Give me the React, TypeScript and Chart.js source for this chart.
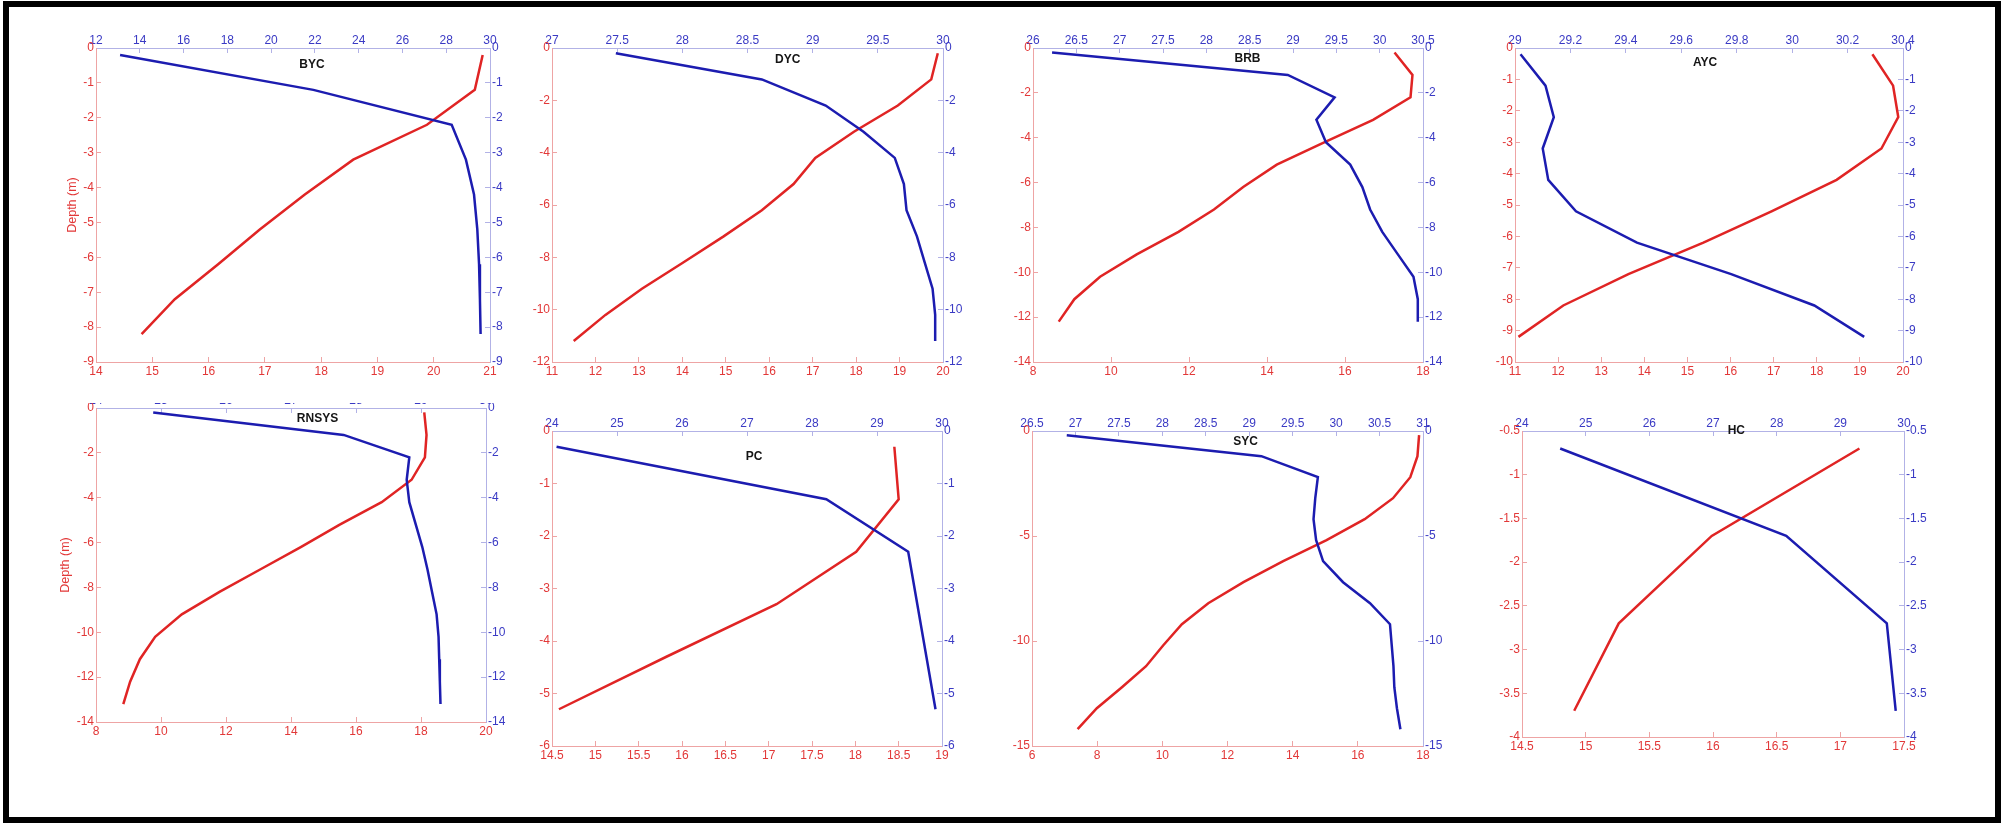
import React, { useEffect, useRef } from "react";
import { Chart, registerables } from "chart.js";

Chart.register(...registerables);

// ---------------- DATA ----------------
// BYC
const bycDepth = [-0.2, -1.2, -2.2, -3.2, -4.2, -5.2, -6.2, -7.2, -8.2];
const bycTemperature = [20.87, 20.73, 19.88, 18.57, 17.71, 16.91, 16.17, 15.4, 14.81];
const bycSalinity = [13.1, 21.93, 28.25, 28.9, 29.27, 29.42, 29.5, 29.54, 29.57];
const bycTempTicks = [14, 15, 16, 17, 18, 19, 20, 21];
const bycSalTicks = [12, 14, 16, 18, 20, 22, 24, 26, 28, 30];
const bycDepthTicks = [-9, -8, -7, -6, -5, -4, -3, -2, -1, 0];

// DYC
const dycDepth = [-0.2, -1.2, -2.2, -3.2, -4.2, -5.2, -6.2, -7.2, -8.2, -9.2, -10.2, -11.2];
const dycTemperature = [19.88, 19.73, 18.96, 17.95, 17.06, 16.56, 15.83, 14.95, 14.02, 13.07, 12.23, 11.5];
const dycSalinity = [27.49, 28.61, 29.1, 29.39, 29.63, 29.7, 29.72, 29.8, 29.86, 29.92, 29.94, 29.94];
const dycTempTicks = [11, 12, 13, 14, 15, 16, 17, 18, 19, 20];
const dycSalTicks = [27, 27.5, 28, 28.5, 29, 29.5, 30];
const dycDepthTicks = [-12, -10, -8, -6, -4, -2, 0];

// BRB
const brbDepth = [-0.2, -1.2, -2.2, -3.2, -4.2, -5.2, -6.2, -7.2, -8.2, -9.2, -10.2, -11.2, -12.2];
const brbTemperature = [17.27, 17.73, 17.68, 16.72, 15.48, 14.25, 13.39, 12.64, 11.73, 10.66, 9.72, 9.06, 8.66];
const brbSalinity = [26.22, 28.94, 29.48, 29.27, 29.38, 29.66, 29.8, 29.89, 30.03, 30.21, 30.39, 30.44, 30.44];
const brbTempTicks = [8, 10, 12, 14, 16, 18];
const brbSalTicks = [26, 26.5, 27, 27.5, 28, 28.5, 29, 29.5, 30, 30.5];
const brbDepthTicks = [-14, -12, -10, -8, -6, -4, -2, 0];

// AYC
const aycDepth = [-0.2, -1.2, -2.2, -3.2, -4.2, -5.2, -6.2, -7.2, -8.2, -9.2];
const aycTemperature = [19.29, 19.77, 19.89, 19.5, 18.46, 16.95, 15.37, 13.63, 12.12, 11.08];
const aycSalinity = [29.02, 29.11, 29.14, 29.1, 29.12, 29.22, 29.44, 29.78, 30.08, 30.26];
const aycTempTicks = [11, 12, 13, 14, 15, 16, 17, 18, 19, 20];
const aycSalTicks = [29, 29.2, 29.4, 29.6, 29.8, 30, 30.2, 30.4];
const aycDepthTicks = [-10, -9, -8, -7, -6, -5, -4, -3, -2, -1, 0];

// RNSYS
const rnsysDepth = [-0.2, -1.2, -2.2, -3.2, -4.2, -5.2, -6.2, -7.2, -8.2, -9.2, -10.2, -11.2, -12.2, -13.2];
const rnsysTemperature = [18.1, 18.17, 18.12, 17.71, 16.79, 15.5, 14.3, 13.05, 11.8, 10.64, 9.82, 9.35, 9.05, 8.84];
const rnsysSalinity = [24.88, 27.81, 28.82, 28.78, 28.82, 28.92, 29.02, 29.1, 29.17, 29.24, 29.27, 29.28, 29.29, 29.3];
const rnsysTempTicks = [8, 10, 12, 14, 16, 18, 20];
const rnsysSalTicks = [24, 25, 26, 27, 28, 29, 30];
const rnsysDepthTicks = [-14, -12, -10, -8, -6, -4, -2, 0];

// PC
const pcDepth = [-0.3, -1.3, -2.3, -3.3, -4.3, -5.3];
const pcTemperature = [18.45, 18.5, 18.01, 17.09, 15.82, 14.58];
const pcSalinity = [24.07, 28.22, 29.48, 29.62, 29.76, 29.9];
const pcTempTicks = [14.5, 15, 15.5, 16, 16.5, 17, 17.5, 18, 18.5, 19];
const pcSalTicks = [24, 25, 26, 27, 28, 29, 30];
const pcDepthTicks = [-6, -5, -4, -3, -2, -1, 0];

// SYC
const sycDepth = [-0.2, -1.2, -2.2, -3.2, -4.2, -5.2, -6.2, -7.2, -8.2, -9.2, -10.2, -11.2, -12.2, -13.2, -14.2];
const sycTemperature = [17.88, 17.83, 17.61, 17.08, 16.21, 15.04, 13.71, 12.49, 11.41, 10.6, 10.03, 9.5, 8.76, 7.99, 7.4];
const sycSalinity = [26.9, 29.14, 29.79, 29.76, 29.74, 29.77, 29.85, 30.08, 30.39, 30.62, 30.64, 30.66, 30.67, 30.7, 30.74];
const sycTempTicks = [6, 8, 10, 12, 14, 16, 18];
const sycSalTicks = [26.5, 27, 27.5, 28, 28.5, 29, 29.5, 30, 30.5, 31];
const sycDepthTicks = [-15, -10, -5, 0];

// HC
const hcDepth = [-0.7, -1.7, -2.7, -3.7];
const hcTemperature = [17.15, 15.99, 15.26, 14.91];
const hcSalinity = [24.6, 28.15, 29.73, 29.87];
const hcTempTicks = [14.5, 15, 15.5, 16, 16.5, 17, 17.5];
const hcSalTicks = [24, 25, 26, 27, 28, 29, 30];
const hcDepthTicks = [-4, -3.5, -3, -2.5, -2, -1.5, -1, -0.5];

// ---------------- STYLE ----------------
const FONT = "'Liberation Sans', Arial, sans-serif";
const RED_LINE = "#e02424";
const BLUE_LINE = "#1c1cb0";
const RED_TEXT = "#e23838";
const BLUE_TEXT = "#3a3ac4";
const RED_AXIS = "#eea4a4";
const BLUE_AXIS = "#b2b2e6";

const AX_W = 50; // width of y axes
const AX_H = 28; // height of x axes

type Panel = {
  name: string;
  depth: number[];
  temp: number[];
  sal: number[];
  tempTicks: number[];
  salTicks: number[];
  depthTicks: number[];
  box: [number, number, number, number];
  title: [number, number];
  depthLabelX?: number;
  clipTop?: number;
};

const panels: Panel[] = [
  { name: "BYC", depth: bycDepth, temp: bycTemperature, sal: bycSalinity, tempTicks: bycTempTicks, salTicks: bycSalTicks, depthTicks: bycDepthTicks, box: [96, 48, 394, 314], title: [0.548, 17], depthLabelX: -23.5 },
  { name: "DYC", depth: dycDepth, temp: dycTemperature, sal: dycSalinity, tempTicks: dycTempTicks, salTicks: dycSalTicks, depthTicks: dycDepthTicks, box: [552, 48, 391, 314], title: [0.603, 12] },
  { name: "BRB", depth: brbDepth, temp: brbTemperature, sal: brbSalinity, tempTicks: brbTempTicks, salTicks: brbSalTicks, depthTicks: brbDepthTicks, box: [1033, 48, 390, 314], title: [0.55, 10.6] },
  { name: "AYC", depth: aycDepth, temp: aycTemperature, sal: aycSalinity, tempTicks: aycTempTicks, salTicks: aycSalTicks, depthTicks: aycDepthTicks, box: [1515, 48, 388, 314], title: [0.49, 15] },
  { name: "RNSYS", depth: rnsysDepth, temp: rnsysTemperature, sal: rnsysSalinity, tempTicks: rnsysTempTicks, salTicks: rnsysSalTicks, depthTicks: rnsysDepthTicks, box: [96, 408, 390, 314], title: [0.568, 10.6], depthLabelX: -30, clipTop: 403 },
  { name: "PC", depth: pcDepth, temp: pcTemperature, sal: pcSalinity, tempTicks: pcTempTicks, salTicks: pcSalTicks, depthTicks: pcDepthTicks, box: [552, 431, 390, 315], title: [0.518, 26] },
  { name: "SYC", depth: sycDepth, temp: sycTemperature, sal: sycSalinity, tempTicks: sycTempTicks, salTicks: sycSalTicks, depthTicks: sycDepthTicks, box: [1032, 431, 391, 315], title: [0.546, 10.7] },
  { name: "HC", depth: hcDepth, temp: hcTemperature, sal: hcSalinity, tempTicks: hcTempTicks, salTicks: hcSalTicks, depthTicks: hcDepthTicks, box: [1522, 431, 382, 306], title: [0.561, -0.7] },
];

const fmt = (v: number | string) => String(+Number(v).toFixed(3));

function makeAxis(position: string, ticks: number[], textColor: string, axisColor: string, padding: number) {
  const horizontal = position === "top" || position === "bottom";
  return {
    type: "linear",
    position,
    min: ticks[0],
    max: ticks[ticks.length - 1],
    afterBuildTicks: (s: any) => {
      s.ticks = ticks.map((v) => ({ value: v }));
    },
    afterFit: (s: any) => {
      if (horizontal) s.height = AX_H;
      else s.width = AX_W;
    },
    grid: {
      drawOnChartArea: false,
      drawTicks: true,
      tickLength: -5,
      color: axisColor,
      tickColor: axisColor,
      tickWidth: 1,
    },
    border: { display: true, color: axisColor, width: 1 },
    ticks: {
      color: textColor,
      font: { family: FONT, size: 12 },
      padding,
      autoSkip: false,
      maxRotation: 0,
      minRotation: 0,
      callback: (v: any) => fmt(v),
    },
  };
}

function PanelChart({ p }: { p: Panel }) {
  const ref = useRef<HTMLCanvasElement>(null);
  const [l, t, w, h] = p.box;
  const cw = w + 2 * AX_W;
  const ch = h + 2 * AX_H;
  const cl = l - AX_W;
  const ct = t - AX_H;

  useEffect(() => {
    if (!ref.current) return;
    const textPlugin = {
      id: "panelText" + p.name,
      afterDraw(chart: any) {
        const { ctx, chartArea: a } = chart;
        ctx.save();
        ctx.font = `bold 12px ${FONT}`;
        ctx.fillStyle = "#151515";
        ctx.textAlign = "center";
        ctx.textBaseline = "middle";
        ctx.fillText(p.name, a.left + p.title[0] * (a.right - a.left), a.top + p.title[1]);
        if (p.depthLabelX !== undefined) {
          ctx.translate(a.left + p.depthLabelX, (a.top + a.bottom) / 2);
          ctx.rotate(-Math.PI / 2);
          ctx.fillStyle = RED_TEXT;
          ctx.font = `12.5px ${FONT}`;
          ctx.fillText("Depth (m)", 0, 0);
        }
        ctx.restore();
      },
    };
    const chart = new Chart(ref.current, {
      type: "scatter",
      data: {
        datasets: [
          {
            label: "Salinity",
            data: p.depth.map((d, i) => ({ x: p.sal[i], y: d })),
            xAxisID: "xt",
            yAxisID: "yr",
            showLine: true,
            borderColor: BLUE_LINE,
            backgroundColor: BLUE_LINE,
            borderWidth: 2.5,
            pointRadius: 0,
            tension: 0,
          },
          {
            label: "Temperature",
            data: p.depth.map((d, i) => ({ x: p.temp[i], y: d })),
            xAxisID: "xb",
            yAxisID: "yl",
            showLine: true,
            borderColor: RED_LINE,
            backgroundColor: RED_LINE,
            borderWidth: 2.5,
            pointRadius: 0,
            tension: 0,
          },
        ],
      },
      options: {
        responsive: false,
        animation: false,
        events: [],
        layout: { padding: 0 },
        plugins: { legend: { display: false }, tooltip: { enabled: false }, title: { display: false } },
        scales: {
          xb: makeAxis("bottom", p.tempTicks, RED_TEXT, RED_AXIS, 7),
          xt: makeAxis("top", p.salTicks, BLUE_TEXT, BLUE_AXIS, 5),
          yl: makeAxis("left", p.depthTicks, RED_TEXT, RED_AXIS, 7),
          yr: makeAxis("right", p.depthTicks, BLUE_TEXT, BLUE_AXIS, 7),
        } as any,
      },
      plugins: [textPlugin],
    } as any);
    return () => chart.destroy();
  }, []);

  const clipTop = p.clipTop !== undefined ? p.clipTop : ct;
  return (
    <div
      style={{
        position: "absolute",
        left: cl,
        top: clipTop,
        width: cw,
        height: ct + ch - clipTop,
        overflow: "hidden",
      }}
    >
      <canvas
        ref={ref}
        width={cw}
        height={ch}
        style={{ position: "absolute", left: 0, top: ct - clipTop, width: cw, height: ch }}
      />
    </div>
  );
}

export default function App() {
  return (
    <div
      style={{
        position: "absolute",
        left: 0,
        top: 0,
        width: 2007,
        height: 825,
        background: "#ffffff",
        overflow: "hidden",
      }}
    >
      {panels.map((p) => (
        <PanelChart key={p.name} p={p} />
      ))}
      <div
        style={{
          position: "absolute",
          left: 3,
          top: 1,
          width: 1998,
          height: 822,
          border: "6px solid #000",
          boxSizing: "border-box",
          pointerEvents: "none",
        }}
      />
    </div>
  );
}
